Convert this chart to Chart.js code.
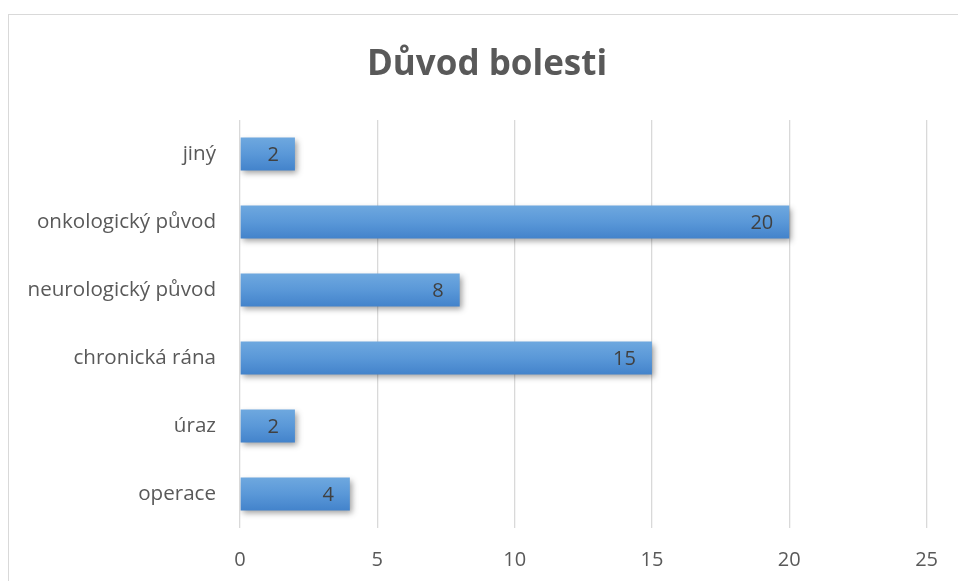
<!DOCTYPE html>
<html>
<head>
<meta charset="utf-8">
<script src="https://cdn.jsdelivr.net/npm/chart.js@4/dist/chart.umd.min.js"></script>
<style>
html,body{margin:0;padding:0;background:#fff;}
#wrap{width:958px;height:581px;position:relative;}
</style>
</head>
<body>
<div id="wrap"><canvas id="c" width="958" height="581"></canvas></div>
<script>
const categories = ["jiný", "onkologický původ", "neurologický původ", "chronická rána", "úraz", "operace"];
const values = [2, 20, 8, 15, 2, 4];
const xTicks = [0, 5, 10, 15, 20, 25];
const titleText = "Důvod bolesti";

const FONT = "'Open Sans', sans-serif";

const framePlugin = {
  id: 'frame',
  beforeDraw(chart) {
    const ctx = chart.ctx;
    ctx.save();
    ctx.fillStyle = '#fff';
    ctx.fillRect(0, 0, chart.width, chart.height);
    ctx.strokeStyle = '#d9d9d9';
    ctx.lineWidth = 1;
    ctx.strokeRect(8.5, 14.5, chart.width + 10, chart.height + 10);
    ctx.restore();
  },
  afterLayout(chart) {
    // let the category labels use the space left of the axis box
    chart.scales.y.left = 0;
  }
};

const shadowPlugin = {
  id: 'barShadow',
  beforeDatasetsDraw(chart) {
    const ctx = chart.ctx;
    ctx.save();
    ctx.shadowColor = 'rgba(0,0,0,0.38)';
    ctx.shadowBlur = 6;
    ctx.shadowOffsetX = 2;
    ctx.shadowOffsetY = 3;
  },
  afterDatasetsDraw(chart) {
    chart.ctx.restore();
    const ctx = chart.ctx;
    ctx.save();
    ctx.font = "20px " + FONT;
    ctx.fillStyle = '#404040';
    ctx.textAlign = 'right';
    ctx.textBaseline = 'middle';
    const meta = chart.getDatasetMeta(0);
    meta.data.forEach((el, i) => {
      ctx.fillText(String(values[i]), el.x - 16, el.y + 1);
    });
    ctx.restore();
  }
};

function barGradient(context) {
  const chart = context.chart;
  const meta = chart.getDatasetMeta(0);
  const el = meta.data[context.dataIndex];
  if (!el || el.y === undefined || isNaN(el.y) || !el.height) return '#5b9bd5';
  const top = el.y - el.height / 2, bot = el.y + el.height / 2;
  const g = chart.ctx.createLinearGradient(0, top, 0, bot);
  g.addColorStop(0, '#6ea8df');
  g.addColorStop(0.5, '#5a98d8');
  g.addColorStop(1, '#4383cb');
  return g;
}

const chart = new Chart(document.getElementById('c'), {
  type: 'bar',
  data: {
    labels: categories,
    datasets: [{
      data: values,
      backgroundColor: barGradient,
      borderWidth: 0,
      barPercentage: 0.485,
      categoryPercentage: 1.0
    }]
  },
  options: {
    indexAxis: 'y',
    responsive: false,
    animation: false,
    devicePixelRatio: 1,
    layout: { padding: { left: 47, right: 31, top: 0, bottom: 0 } },
    plugins: {
      legend: { display: false },
      tooltip: { enabled: false },
      title: {
        display: true,
        text: titleText,
        color: '#595959',
        font: { family: FONT, size: 35, weight: 'bold' },
        padding: { top: 44, bottom: 34 }
      }
    },
    scales: {
      x: {
        min: 0, max: 25,
        afterBuildTicks: s => { s.ticks = xTicks.map(v => ({ value: v })); },
        grid: { color: '#d9d9d9', lineWidth: 1.3, drawTicks: false },
        border: { display: false },
        ticks: { color: '#595959', font: { family: FONT, size: 20 }, padding: 20 },
        afterFit: s => { s.height = 53; }
      },
      y: {
        grid: { display: false },
        border: { display: false },
        ticks: { color: '#595959', font: { family: FONT, size: 20.6 }, padding: 16 },
        afterFit: s => { s.width = 193; }
      }
    }
  },
  plugins: [framePlugin, shadowPlugin]
});
chart.update('none');
</script>
</body>
</html>
